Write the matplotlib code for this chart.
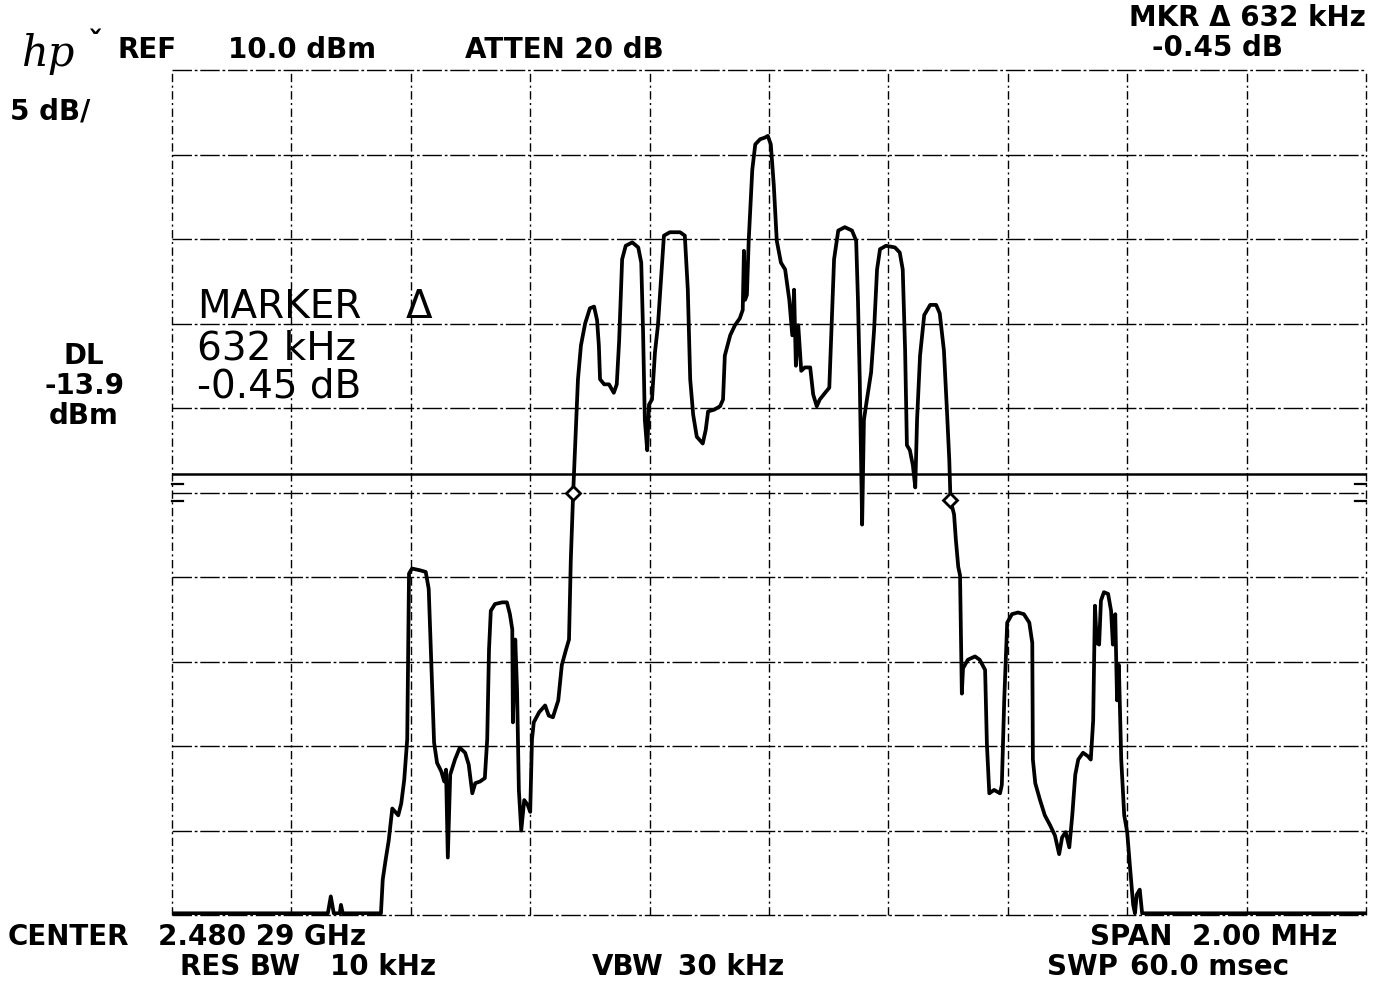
import matplotlib
matplotlib.use("Agg")
import matplotlib.pyplot as plt
import numpy as np

# analyzer settings
ref_level = 10.0        # dBm, top graticule line
db_per_div = 5.0
display_line = -13.9    # dBm
span_mhz = 2.0

# marker 1 and the delta reading to marker 2
marker_freq = -0.328    # MHz from center
marker_level = -15.0    # dBm
delta_khz = 632
delta_db = -0.45

# trace, offset from center frequency (MHz) / level (dBm)
freq_mhz = [
    -1.000, -0.739, -0.734, -0.729, -0.719, -0.717, -0.714, -0.650, -0.647, -0.642,
    -0.637, -0.631, -0.626, -0.621, -0.616, -0.611, -0.606, -0.603, -0.598, -0.585,
    -0.575, -0.570, -0.564, -0.561, -0.556, -0.549, -0.544, -0.541, -0.538, -0.534,
    -0.526, -0.518, -0.509, -0.503, -0.497, -0.492, -0.484, -0.476, -0.472, -0.469,
    -0.466, -0.459, -0.447, -0.439, -0.434, -0.430, -0.429, -0.425, -0.422, -0.419,
    -0.415, -0.410, -0.404, -0.400, -0.397, -0.394, -0.385, -0.375, -0.369, -0.362,
    -0.353, -0.347, -0.340, -0.335, -0.332, -0.328, -0.325, -0.320, -0.315, -0.308,
    -0.300, -0.293, -0.288, -0.285, -0.283, -0.276, -0.268, -0.260, -0.255, -0.251,
    -0.246, -0.240, -0.229, -0.219, -0.214, -0.211, -0.208, -0.204, -0.201, -0.196,
    -0.191, -0.186, -0.181, -0.176, -0.166, -0.149, -0.141, -0.136, -0.132, -0.127,
    -0.121, -0.111, -0.106, -0.102, -0.092, -0.082, -0.077, -0.074, -0.065, -0.057,
    -0.049, -0.044, -0.042, -0.040, -0.037, -0.034, -0.028, -0.023, -0.015, -0.007,
    -0.002, 0.003, 0.008, 0.013, 0.020, 0.027, 0.034, 0.039, 0.042, 0.045,
    0.049, 0.054, 0.060, 0.069, 0.074, 0.080, 0.085, 0.094, 0.101, 0.104,
    0.109, 0.116, 0.127, 0.139, 0.146, 0.149, 0.152, 0.156, 0.159, 0.164,
    0.171, 0.176, 0.181, 0.186, 0.196, 0.211, 0.219, 0.224, 0.228, 0.231,
    0.236, 0.241, 0.245, 0.248, 0.253, 0.260, 0.270, 0.280, 0.286, 0.293,
    0.298, 0.302, 0.304, 0.310, 0.313, 0.317, 0.320, 0.323, 0.325, 0.333,
    0.345, 0.353, 0.362, 0.365, 0.369, 0.377, 0.387, 0.390, 0.394, 0.399,
    0.407, 0.417, 0.427, 0.436, 0.441, 0.442, 0.446, 0.454, 0.462, 0.471,
    0.479, 0.486, 0.491, 0.497, 0.503, 0.508, 0.513, 0.518, 0.526, 0.534,
    0.539, 0.543, 0.546, 0.549, 0.553, 0.556, 0.561, 0.568, 0.573, 0.576,
    0.580, 0.583, 0.586, 0.590, 0.595, 0.600, 0.605, 0.610, 0.613, 0.616,
    0.621, 0.625, 1.000,
]
level_dbm = [
    -39.9, -39.9, -38.9, -39.9, -39.9, -39.4, -39.9, -39.9, -37.9, -36.7,
    -35.6, -33.7, -33.9, -34.1, -33.4, -32.0, -29.6, -19.8, -19.5, -19.6,
    -19.7, -20.7, -26.7, -29.8, -31.0, -31.5, -32.1, -31.4, -36.6, -31.7,
    -30.8, -30.1, -30.4, -31.1, -32.8, -32.2, -32.1, -31.9, -29.6, -24.3,
    -22.0, -21.6, -21.5, -21.5, -22.2, -23.1, -28.6, -23.7, -26.7, -32.6,
    -35.0, -33.2, -33.5, -33.9, -29.6, -28.6, -28.0, -27.6, -28.2, -28.3,
    -27.3, -25.2, -24.3, -23.7, -19.0, -15.0, -12.5, -8.3, -6.3, -5.0,
    -4.1, -4.0, -4.8, -6.3, -8.3, -8.6, -8.6, -9.1, -8.6, -6.0,
    -1.2, -0.4, -0.2, -0.5, -1.4, -5.4, -10.7, -12.5, -9.8, -9.5,
    -6.7, -5.1, -2.4, 0.2, 0.4, 0.4, 0.2, -3.0, -8.3, -10.4,
    -11.7, -12.1, -11.3, -10.2, -10.1, -9.9, -9.5, -6.9, -5.7, -5.1,
    -4.7, -4.2, -0.7, -3.6, -3.3, -0.1, 4.1, 5.6, 5.9, 6.0,
    6.1, 5.6, 3.2, -0.1, -1.4, -1.8, -3.6, -5.7, -3.0, -7.5,
    -5.1, -7.8, -7.6, -7.6, -9.2, -9.9, -9.5, -9.1, -8.8, -6.0,
    -1.2, 0.5, 0.7, 0.5, -0.1, -3.6, -8.3, -16.9, -10.7, -9.5,
    -7.9, -5.4, -1.8, -0.6, -0.4, -0.5, -0.8, -1.8, -6.6, -12.2,
    -12.5, -13.4, -14.7, -10.7, -6.9, -4.5, -3.9, -3.9, -4.4, -6.6,
    -10.1, -13.1, -15.45, -16.3, -17.8, -19.4, -19.9, -26.9, -25.4, -24.9,
    -24.7, -24.9, -25.5, -29.9, -32.8, -32.6, -32.8, -32.3, -27.3, -22.7,
    -22.2, -22.1, -22.2, -22.7, -23.9, -30.8, -32.2, -33.2, -34.1, -34.7,
    -35.3, -36.4, -35.4, -35.1, -36.0, -34.1, -31.7, -30.8, -30.4, -30.6,
    -30.8, -28.5, -21.7, -23.9, -24.0, -21.4, -20.9, -21.0, -22.0, -24.0,
    -22.2, -27.3, -25.2, -30.8, -34.1, -35.1, -37.3, -39.4, -39.9, -38.8,
    -38.5, -39.9, -39.9,
]

W, H = 1381, 982
fig = plt.figure(figsize=(W / 100, H / 100), dpi=100)
ax = fig.add_axes([172 / W, 1 - 915 / H, (1366 - 172) / W, (915 - 70) / H])
bottom = ref_level - 10 * db_per_div
ax.set_xlim(-span_mhz / 2, span_mhz / 2)
ax.set_ylim(bottom, ref_level)
ax.axis("off")

# graticule, 10 x 10 divisions
for f in np.linspace(-span_mhz / 2, span_mhz / 2, 11):
    ax.axvline(f, color="black", lw=1.0, ls=(0, (6, 2.5, 1.5, 2.5)), clip_on=False)
for lvl in np.linspace(bottom, ref_level, 11):
    ax.axhline(lvl, color="black", lw=1.0, ls=(0, (14, 2, 2, 2)), clip_on=False)

# display line and its edge indicators
ax.axhline(display_line, color="black", lw=1.8)
for lvl in (-14.5, -15.5):
    ax.plot([0, 0.009], [lvl, lvl], color="black", lw=1.6,
            transform=ax.get_yaxis_transform(), clip_on=False)
    ax.plot([0.991, 1.0], [lvl, lvl], color="black", lw=1.6,
            transform=ax.get_yaxis_transform(), clip_on=False)

ax.plot(freq_mhz, level_dbm, color="black", lw=2.7, solid_joinstyle="round")

# marker pair
m2_freq = marker_freq + delta_khz / 1000
m2_level = marker_level + delta_db
ax.plot([marker_freq, m2_freq], [marker_level, m2_level], "D", ms=7,
        mfc="white", mec="black", mew=2, zorder=5)


def put(x, y, s, **kw):
    kw.setdefault("fontsize", 20)
    kw.setdefault("fontweight", "bold")
    kw.setdefault("va", "center")
    kw.setdefault("family", "DejaVu Sans")
    fig.text(x / W, 1 - y / H, s, **kw)


put(22, 54, "hp", fontsize=30, fontweight="normal", style="italic", family="DejaVu Serif")
put(88, 44, "ˇ", fontsize=22)
put(118, 50, "REF")
put(228, 50, "10.0 dBm")
put(465, 50, "ATTEN 20 dB")
put(10, 111, "5 dB/")
put(1366, 18, f"MKR Δ {delta_khz} kHz", ha="right")
put(1218, 48, f"{delta_db:.2f} dB", ha="center")

put(84, 356, "DL", ha="center")
put(84, 386, f"{display_line:.1f}", ha="center")
put(84, 416, "dBm", ha="center")

put(197, 307, "MARKER", fontsize=28, fontweight="normal")
put(432, 307, "Δ", fontsize=28, fontweight="normal", ha="right")
put(197, 348, f"{delta_khz} kHz", fontsize=28, fontweight="normal")
put(197, 386, f"{delta_db:.2f} dB", fontsize=28, fontweight="normal")

# footer fields
put(8, 937, "CENTER")
put(158, 937, "2.480 29 GHz")
put(180, 967, "RES BW")
put(330, 967, "10 kHz")
put(592, 967, "VBW")
put(678, 967, "30 kHz")
put(1090, 937, "SPAN")
put(1192, 937, "2.00 MHz")
put(1047, 967, "SWP")
put(1130, 967, "60.0 msec")

fig.savefig("out.png", dpi=100, facecolor="white")
